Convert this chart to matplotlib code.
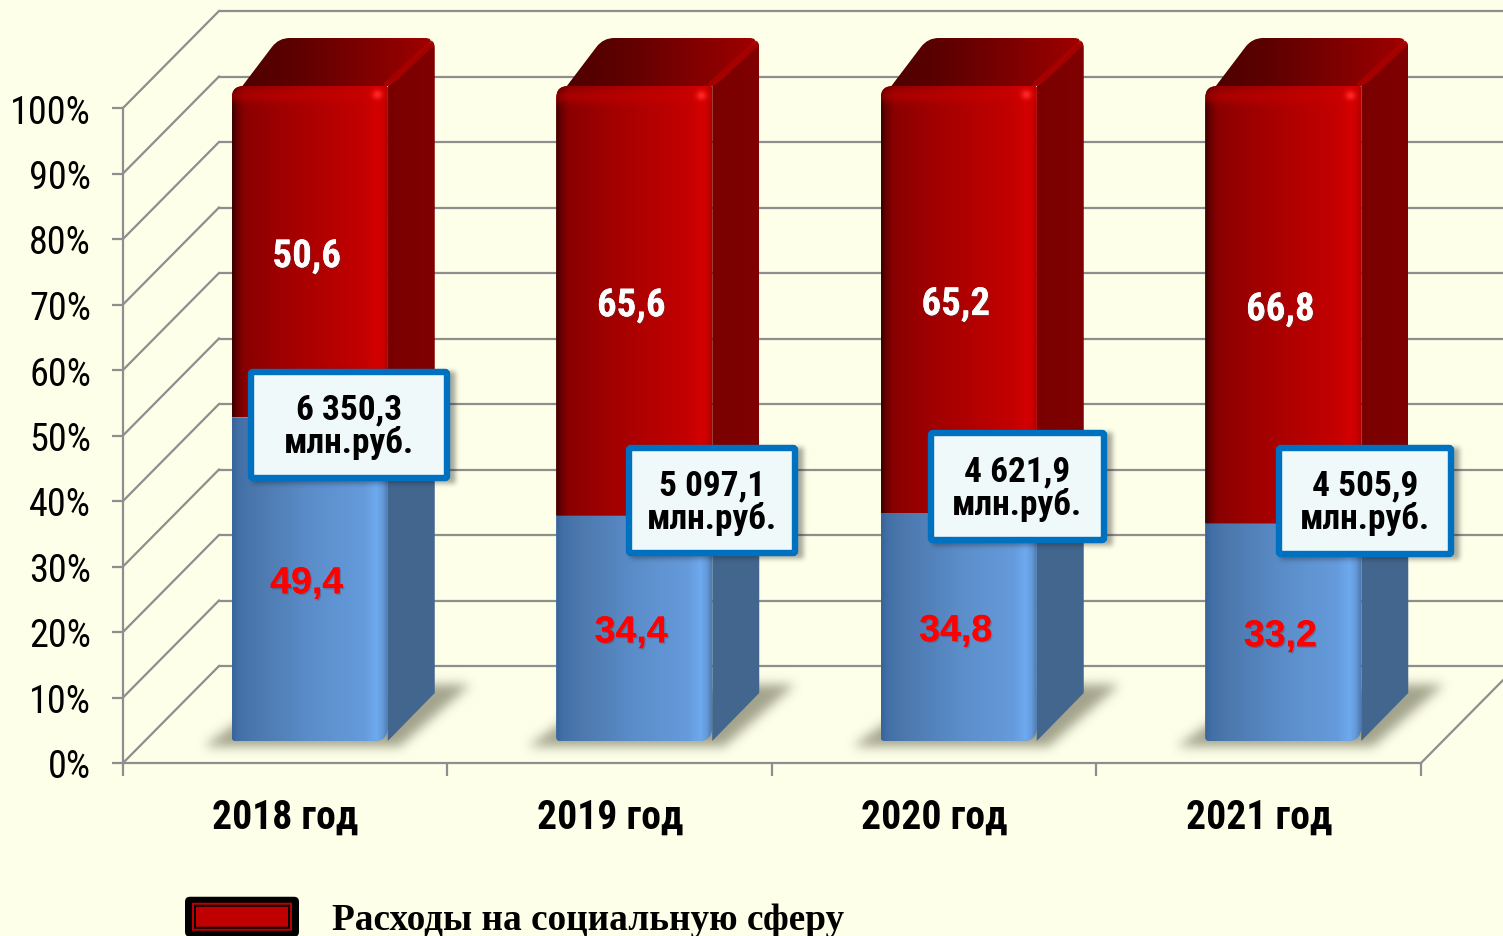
import numpy as np
import matplotlib
matplotlib.use("Agg")
import matplotlib.pyplot as plt
from matplotlib.path import Path
from matplotlib.patches import FancyBboxPatch, Patch
from matplotlib.transforms import IdentityTransform, Affine2D
from matplotlib.colors import to_rgb
from matplotlib.legend_handler import HandlerBase
import matplotlib.patheffects as pe

# ---------- data ----------
years = ["2018 год", "2019 год", "2020 год", "2021 год"]
social_share = [50.6, 65.6, 65.2, 66.8]
other_share = [49.4, 34.4, 34.8, 33.2]
social_labels = ["50,6", "65,6", "65,2", "66,8"]
other_labels = ["49,4", "34,4", "34,8", "33,2"]
amount_labels = ["6 350,3\nмлн.руб.", "5 097,1\nмлн.руб.", "4 621,9\nмлн.руб.", "4 505,9\nмлн.руб."]
legend_label = "Расходы на социальную сферу"
pct_ticks = list(range(0, 101, 10))

# ---------- layout (pixels) ----------
W, H = 1503, 937
BG = "#FEFFE8"
GRID = "#8E8E8E"
WALL = (96, 97)            # depth of the back wall
FRONT = (24.5, 22)         # offset of the bars' front plane
BAR_DEPTH = (47, 48)
BAR_W = 156 / 324.5
NARROW = ["Roboto Condensed", "Liberation Sans", "DejaVu Sans"]
BOXES = [(248, 370, 202, 112), (626, 446, 172, 111), (928, 431, 179, 113), (1276, 446, 178, 112)]

fig = plt.figure(figsize=(W / 100, H / 100), dpi=100, facecolor=BG)
ax = fig.add_axes([123 / W, (H - 764) / H, 1298 / W, 655 / H])
ax.set_autoscale_on(False)
ax.set_xlim(0, 4)
ax.set_ylim(0, 100)
ax.patch.set_visible(False)
ID = IdentityTransform()


def disp(x, y, off=(0, 0)):
    p = ax.transData.transform((x, y))
    return np.array([p[0] + off[0], p[1] + off[1]])


def rounded(pts, radii):
    verts, codes = [], []
    n = len(pts)
    for i, (p, r) in enumerate(zip(pts, radii)):
        p = np.asarray(p, float)
        a = np.asarray(pts[i - 1], float)
        b = np.asarray(pts[(i + 1) % n], float)
        if r <= 0:
            verts.append(p)
            codes.append(Path.MOVETO if i == 0 else Path.LINETO)
            continue
        s = p + (a - p) / np.linalg.norm(a - p) * r
        e = p + (b - p) / np.linalg.norm(b - p) * r
        verts += [s, p, e]
        codes += [Path.MOVETO if i == 0 else Path.LINETO, Path.CURVE3, Path.CURVE3]
    verts.append(verts[0])
    codes.append(Path.CLOSEPOLY)
    return Path(np.array(verts), codes)


def ramp(t, stops):
    pos = [s[0] for s in stops]
    cols = np.array([to_rgb(s[1]) for s in stops])
    return np.stack([np.interp(t, pos, cols[:, k]) for k in range(3)], axis=-1)


def place_image(rgb, x0, x1, y0, y1, clip, z):
    im = ax.imshow(rgb, extent=(x0, x1, y0, y1), origin="lower", aspect="auto",
                   transform=ID, interpolation="bilinear", zorder=z)
    if clip is not None:
        im.set_clip_path(clip, ID)
    im.set_clip_box(fig.bbox)
    return im


def blur(a, s):
    xs = np.arange(-3 * s, 3 * s + 1)
    k = np.exp(-xs ** 2 / (2 * s ** 2))
    k /= k.sum()
    a = np.apply_along_axis(lambda r: np.convolve(r, k, mode="same"), 0, a)
    return np.apply_along_axis(lambda r: np.convolve(r, k, mode="same"), 1, a)


def soft_shadow(poly_pts, color, alpha, sigma, z):
    pts = np.array(poly_pts, float)
    pad = int(sigma * 4)
    x0, x1 = int(pts[:, 0].min()) - pad, int(pts[:, 0].max()) + pad
    y0, y1 = int(pts[:, 1].min()) - pad, int(pts[:, 1].max()) + pad
    gx, gy = np.meshgrid(np.arange(x0, x1), np.arange(y0, y1))
    mask = Path(pts).contains_points(np.c_[gx.ravel(), gy.ravel()]).reshape(gx.shape).astype(float)
    rgba = np.zeros(mask.shape + (4,))
    rgba[..., :3] = color
    rgba[..., 3] = blur(mask, sigma) * alpha
    place_image(rgba, x0, x1, y0, y1, None, z)


# ---------- walls ----------
for sp in ("top", "right"):
    ax.spines[sp].set_visible(False)
for sp in ("left", "bottom"):
    ax.spines[sp].set_color(GRID)
    ax.spines[sp].set_linewidth(1.6)
back_tr = ax.transData + Affine2D().translate(*WALL)
ax.hlines(pct_ticks, 0, 4.4, color=GRID, lw=1.6, transform=back_tr, clip_on=False, zorder=1)
for t in pct_ticks:
    a, b = disp(0, t), disp(0, t, WALL)
    ax.plot([a[0], b[0]], [a[1], b[1]], color=GRID, lw=1.6, transform=ID, clip_on=False, zorder=1)
a, b = disp(4, 0), disp(4, 0, WALL)
ax.plot([a[0], b[0]], [a[1], b[1]], color=GRID, lw=1.6, transform=ID, clip_on=False, zorder=1)

ax.set_yticks(pct_ticks)
ax.set_yticklabels([f"{t}%" for t in pct_ticks], family=NARROW, fontsize=27.5, color="black")
ax.tick_params(axis="y", length=8, width=1.6, color=GRID, pad=15)
ax.set_xticks(range(5))
ax.set_xticklabels([])
ax.set_xticks(np.arange(4) + 0.5, minor=True)
ax.set_xticklabels(years, minor=True, family=NARROW, fontsize=28.5, fontweight="bold")
ax.tick_params(axis="x", which="major", length=9, width=1.6, color=GRID)
ax.tick_params(axis="x", which="minor", length=0, pad=25)

# ---------- bars ----------
RED_STOPS = [(0, "#3c0000"), (.03, "#680000"), (.08, "#8a0000"), (.3, "#9e0000"), (.55, "#b00000"),
             (.85, "#c40000"), (.93, "#d40000"), (.97, "#cc0000"), (1, "#b00000")]
BLUE_STOPS = [(0, "#38649a"), (.04, "#4270a6"), (.15, "#4c78ad"), (.5, "#5b8dc9"),
              (.85, "#659bdc"), (.93, "#6eaaf0"), (.97, "#649ad8"), (1, "#4f7cb2")]
front_tr = ax.transData + Affine2D().translate(*FRONT)
pos = np.arange(4) + 0.5
blue_bars = ax.bar(pos, other_share, BAR_W, color="#5b8dc9", transform=front_tr, zorder=5)
red_bars = ax.bar(pos, social_share, BAR_W, bottom=other_share, color="#b00000",
                  transform=front_tr, zorder=5)

for i in range(4):
    xl = pos[i] - BAR_W / 2
    xr = pos[i] + BAR_W / 2
    low, mid, top = 0, other_share[i], other_share[i] + social_share[i]
    bl, br = disp(xl, low, FRONT), disp(xr, low, FRONT)
    ml, mr = disp(xl, mid, FRONT), disp(xr, mid, FRONT)
    tl, tr_ = disp(xl, top, FRONT), disp(xr, top, FRONT)
    d = np.array(BAR_DEPTH)

    # floor shadow
    soft_shadow([(bl[0] - 30, bl[1] - 7), (br[0] + 10, bl[1] - 7),
                 (br[0] + d[0] + 34, bl[1] + 55), (br[0] + d[0] - 12, bl[1] + 55),
                 (bl[0] + 14, bl[1] + 24)], (0.42, 0.42, 0.33), 0.62, 5.5, 2)

    # side faces
    side_blue = rounded([br, br + d, mr + d, mr], [10, 0, 0, 0])
    ax.fill(*side_blue.vertices.T, color="#43668f", transform=ID, clip_on=False, zorder=3, lw=0)
    side_red = rounded([mr, mr + d, tr_ + d, tr_], [0, 0, 10, 0])
    t_side = np.linspace(0, 1, 60)[None, :]
    place_image(ramp(t_side, [(0, "#7a0000"), (1, "#800000")]), mr[0], tr_[0] + d[0], mr[1], tr_[1] + d[1],
                side_red, 3)

    # top face
    top_path = rounded([tl + (0, -14), tl + d, tr_ + d, tr_], [0, 11, 10, 0])
    tt = np.linspace(0, 1, 200)[None, :]
    top_rgb = ramp(tt, [(0, "#4c0000"), (.3, "#5c0000"), (1, "#a00000")])
    place_image(top_rgb, tl[0], tr_[0] + d[0], tl[1] - 14, tl[1] + d[1], top_path, 4)
    ln, = ax.plot([tr_[0] - 1, tr_[0] + d[0] - 4], [tr_[1] + 1, tr_[1] + d[1] - 6], color="#a80000", lw=5,
                  transform=ID, zorder=4.5, solid_capstyle="round", alpha=.9)
    ln.set_clip_path(rounded([tl, tl + d, tr_ + d + (0, 0), tr_ + d + (0, -22), tr_], [0, 0, 10, 0, 0]), ID)
    ln.set_clip_box(fig.bbox)

    # gradient front faces
    blue_path = rounded([bl, br, mr, ml], [4, 14, 0, 0])
    red_path = rounded([ml, mr, tr_, tl], [0, 0, 2, 12])
    for bar, path in ((blue_bars[i], blue_path), (red_bars[i], red_path)):
        bar.set_clip_path(path, ID)
        bar.set_clip_box(fig.bbox)
    nx = int(br[0] - bl[0])
    t = np.linspace(0, 1, nx)
    ny = int(mr[1] - br[1]) + 1
    img = np.repeat(ramp(t, BLUE_STOPS)[None, :, :], ny, axis=0)
    place_image(img, bl[0], br[0], bl[1], ml[1], blue_path, 6)

    ny = int(tr_[1] - mr[1]) + 1
    yy = np.arange(ny)[::-1][:, None]      # distance from the top edge
    xx = np.arange(nx)[None, :]
    base = np.repeat(ramp(t, RED_STOPS)[None, :, :], ny, axis=0)
    band = np.exp(-((yy - 10) / 7.0) ** 2) * 0.45
    spot = np.exp(-(((yy - 9) / 4.5) ** 2 + ((xx - (nx - 11)) / 5.0) ** 2))
    img = base.copy()
    img[..., 0] = np.clip(base[..., 0] + (0.80 - base[..., 0]) * band + spot * .2, 0, 1)
    img[..., 1] = np.clip(base[..., 1] + spot * .15, 0, 1)
    img[..., 2] = np.clip(base[..., 2] + spot * .15, 0, 1)
    place_image(img, bl[0], br[0], ml[1], tl[1], red_path, 6)

    # value labels
    cx = (bl[0] + br[0]) / 2 - 3
    yb = (bl[1] + ml[1]) / 2 - 4
    yr = (ml[1] + tl[1]) / 2 - 5
    ax.text(cx, yr, social_labels[i], transform=ID, color="white", family=NARROW, fontsize=28,
            fontweight="bold", ha="center", va="center", zorder=8,
            path_effects=[pe.withSimplePatchShadow(offset=(1, -1), alpha=.3), pe.Normal()])
    ax.text(cx, yb, other_labels[i], transform=ID, color="#FF0000", family=["Liberation Sans"], fontsize=27,
            fontweight="bold", ha="center", va="center", zorder=8,
            path_effects=[pe.withSimplePatchShadow(offset=(1, -1), alpha=.2), pe.Normal()])

# ---------- callout boxes ----------
for (bx, by, bw, bh), lab in zip(BOXES, amount_labels):
    y_lo = H - by - bh
    soft_shadow([(bx + 4, y_lo - 4), (bx + bw + 4, y_lo - 4), (bx + bw + 4, y_lo + bh - 4), (bx + 4, y_lo + bh - 4)],
                (0.1, 0.1, 0.1), 0.38, 2.5, 19)
    ax.add_patch(FancyBboxPatch((bx + 3, y_lo + 3), bw - 6, bh - 6, boxstyle="round,pad=0,rounding_size=2",
                                fc="#F0F9FA", ec="#0070C0", lw=4.6, transform=ID, zorder=20, clip_on=False))
    ax.text(bx + bw / 2, y_lo + bh / 2 - 1, lab, transform=ID, family=NARROW, fontsize=25.5, fontweight="bold",
            ha="center", va="center", linespacing=1.0, zorder=21, color="black")


# ---------- legend ----------
class Swatch(HandlerBase):
    def create_artists(self, legend, orig, xd, yd, width, height, fontsize, trans):
        sx, sy = width / 114, height / 40
        layers = [(0, 0, 114, 40, 5, "black"), (7, 6, 100, 28, 0, "#C00000"),
                  (9, 8, 96, 24, 0, "black"), (11, 10, 92, 20, 0, "#C00000")]
        out = []
        for lx, ly, lw, lh, r, col in layers:
            p = FancyBboxPatch((lx * sx - xd, ly * sy - yd), lw * sx, lh * sy,
                               boxstyle=f"round,pad=0,rounding_size={max(r * sx, 0.01)}",
                               fc=col, ec="none", transform=trans)
            out.append(p)
        return out


fs = 26.8
fs_px = fs * 100 / 72
leg = ax.legend(handles=[Patch(label=legend_label)], handler_map={Patch: Swatch()},
                loc="center left", bbox_to_anchor=(185, H - 918), bbox_transform=ID,
                frameon=False, borderpad=0, borderaxespad=0,
                handlelength=114 / fs_px, handleheight=(40 / fs_px - 0.245) / 0.65,
                handletextpad=33 / fs_px,
                prop={"family": "Liberation Serif", "weight": "bold", "size": fs})
leg.set_zorder(30)

fig.savefig("out.png", dpi=100, facecolor=BG)
